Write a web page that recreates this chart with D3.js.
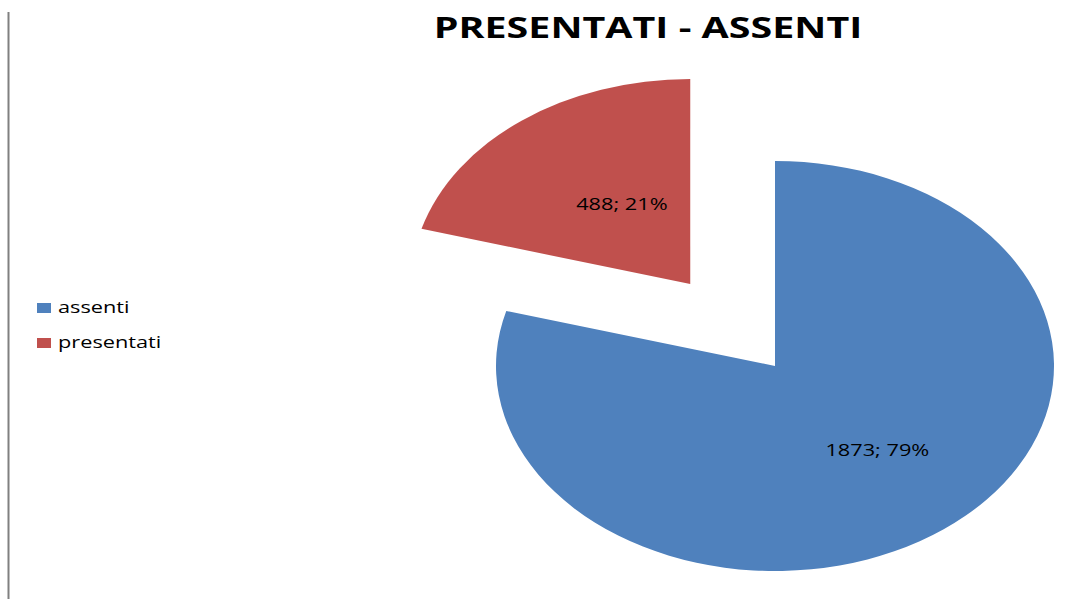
<!DOCTYPE html>
<html>
<head>
<meta charset="utf-8">
<script src="https://cdn.jsdelivr.net/npm/d3@7"></script>
<style>
  body { margin: 0; background: #fff; }
  text { font-family: "Open Sans", "DejaVu Sans", sans-serif; }
</style>
</head>
<body>
<div id="chart"></div>
<script>
var CATEGORIES = ["assenti", "presentati"];
var VALUES = [1873, 488];
var PERCENTS = ["79%", "21%"];
var COLORS = ["#4F81BD", "#C0504D"];
var EXPLODED = [false, true];

var WIDTH = 1068, HEIGHT = 599;
var CX = 775, CY = 366;
var RY = 205, RX = 279;
var EXPLODE_DIST = 103;
var TEXT_SX = 1.36; // the picture is stretched horizontally, text too

var svg = d3.select("#chart").append("svg")
  .attr("width", WIDTH)
  .attr("height", HEIGHT);

// left border of the chart area
svg.append("line")
  .attr("x1", 8.5).attr("x2", 8.5)
  .attr("y1", 12).attr("y2", HEIGHT)
  .attr("stroke", "#808080")
  .attr("stroke-width", 2);

function stretchedText(x, y) {
  return svg.append("g")
    .attr("transform", "translate(" + x + "," + y + ") scale(" + TEXT_SX + ",1)")
    .append("text");
}

stretchedText(648, 38)
  .attr("text-anchor", "middle")
  .style("font-weight", "bold")
  .style("font-size", "29px")
  .attr("fill", "#000")
  .text("PRESENTATI - ASSENTI");

var pie = d3.pie().sort(null).value(function(d) { return d; });
var arcs = pie(VALUES);
var arc = d3.arc().innerRadius(0).outerRadius(RY);

var sx = RX / RY;
var g = svg.append("g")
  .attr("transform", "translate(" + CX + "," + CY + ") scale(" + sx + ",1)");

function offsetOf(d, i) {
  if (!EXPLODED[i]) return [0, 0];
  var mid = (d.startAngle + d.endAngle) / 2;
  return [Math.sin(mid) * EXPLODE_DIST, -Math.cos(mid) * EXPLODE_DIST];
}

g.selectAll("path.slice").data(arcs).enter()
  .append("path")
  .attr("class", "slice")
  .attr("d", arc)
  .attr("fill", function(d, i) { return COLORS[i]; })
  .attr("transform", function(d, i) {
    var o = offsetOf(d, i);
    return "translate(" + o[0] + "," + o[1] + ")";
  });

// data labels
var labelArc = d3.arc().innerRadius(0).outerRadius(RY);
arcs.forEach(function(d, i) {
  var o = offsetOf(d, i);
  var c = labelArc.centroid(d); // at half radius
  var x = CX + (o[0] + c[0]) * sx + (EXPLODED[i] ? 16 : 18);
  var y = CY + o[1] + c[1] + 2;
  stretchedText(x, y)
    .attr("text-anchor", "middle")
    .attr("dominant-baseline", "central")
    .style("font-size", "16px")
    .attr("fill", "#000")
    .text(VALUES[i] + "; " + PERCENTS[i]);
});

// legend
var legend = svg.selectAll("g.leg").data(CATEGORIES).enter()
  .append("g")
  .attr("class", "leg")
  .attr("transform", function(d, i) { return "translate(37," + (303 + i * 35) + ")"; });

legend.append("rect")
  .attr("width", 14).attr("height", 10)
  .attr("fill", function(d, i) { return COLORS[i]; });

legend.append("text")
  .attr("transform", "translate(21,10) scale(" + TEXT_SX + ",1)")
  .style("font-size", "16px")
  .attr("fill", "#000")
  .text(function(d) { return d; });
</script>
</body>
</html>
